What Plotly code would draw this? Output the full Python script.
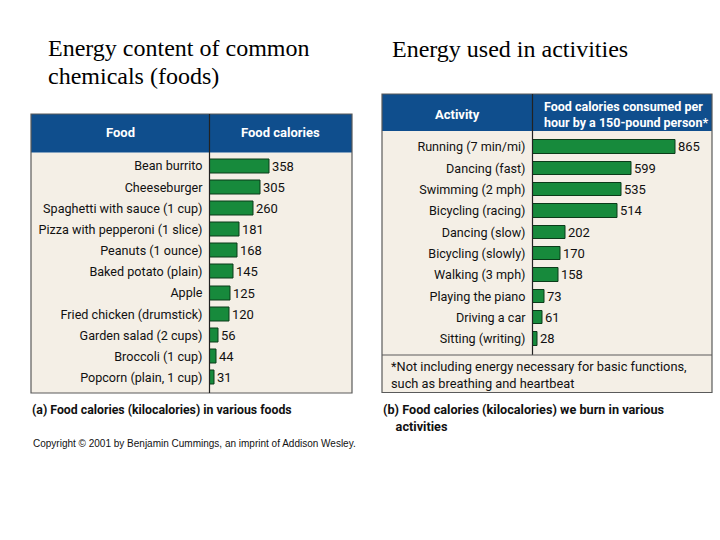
import plotly.graph_objects as go

W, H = 720, 540

foods = ["Bean burrito", "Cheeseburger", "Spaghetti with sauce (1 cup)",
         "Pizza with pepperoni (1 slice)", "Peanuts (1 ounce)", "Baked potato (plain)",
         "Apple", "Fried chicken (drumstick)", "Garden salad (2 cups)",
         "Broccoli (1 cup)", "Popcorn (plain, 1 cup)"]
food_cal = [358, 305, 260, 181, 168, 145, 125, 120, 56, 44, 31]

activities = ["Running (7 min/mi)", "Dancing (fast)", "Swimming (2 mph)",
              "Bicycling (racing)", "Dancing (slow)", "Bicycling (slowly)",
              "Walking (3 mph)", "Playing the piano", "Driving a car", "Sitting (writing)"]
act_cal = [865, 599, 535, 514, 202, 170, 158, 73, 61, 28]

BLUE = "#0f4e8d"
BEIGE = "#f4efe6"
GREEN = "#178a3c"
GREEN_EDGE = "#0b3b19"
BORDER = "#5a5a5a"
FONT = "Roboto, Liberation Sans Narrow, sans-serif"
SERIF = "Liberation Serif, Times New Roman, serif"


def px(x):
    return x / W


def py(y):
    return 1 - y / H


fig = go.Figure()

fig.add_trace(go.Bar(
    x=food_cal, y=foods, orientation="h", xaxis="x", yaxis="y",
    marker=dict(color=GREEN, line=dict(color=GREEN_EDGE, width=1)),
    width=0.66, text=[str(v) for v in food_cal], textposition="outside",
    constraintext="none", cliponaxis=False,
    textfont=dict(family=FONT, size=13, color="#111"), hoverinfo="skip"))

fig.add_trace(go.Bar(
    x=act_cal, y=activities, orientation="h", xaxis="x2", yaxis="y2",
    marker=dict(color=GREEN, line=dict(color=GREEN_EDGE, width=1)),
    width=0.64, text=[str(v) for v in act_cal], textposition="outside",
    constraintext="none", cliponaxis=False,
    textfont=dict(family=FONT, size=13, color="#111"), hoverinfo="skip"))

# panel geometry (pixels)
L = dict(x0=31, x1=352, y0=114, y1=393, div=209.5, hb=152.5)
R = dict(x0=382, x1=712, y0=94, y1=392.5, div=532.5, hb=131, sep=355)

fig.update_layout(
    width=W, height=H, margin=dict(l=0, r=0, t=0, b=0),
    paper_bgcolor="white", plot_bgcolor="rgba(0,0,0,0)",
    showlegend=False, bargap=0,
    xaxis=dict(domain=[px(L["div"]), px(L["x1"])], range=[0, (L["x1"] - L["div"]) / 0.1676],
               visible=False, fixedrange=True),
    yaxis=dict(domain=[py(L["y1"]), py(L["hb"])], anchor="x", type="category",
               range=[10.72, -0.64], showgrid=False, zeroline=False, showline=False,
               ticks="", ticklabelstandoff=6,
               tickfont=dict(family=FONT, size=12.6, color="#111")),
    xaxis2=dict(domain=[px(R["div"]), px(R["x1"])], range=[0, (R["x1"] - R["div"]) / 0.1655],
                visible=False, fixedrange=True),
    yaxis2=dict(domain=[py(R["sep"]), py(R["hb"])], anchor="x2", type="category",
                range=[9.75, -0.75], showgrid=False, zeroline=False, showline=False,
                ticks="", ticklabelstandoff=6,
                tickfont=dict(family=FONT, size=12.6, color="#111")),
)

shapes = []
for P in (L, R):
    shapes.append(dict(type="rect", xref="paper", yref="paper", layer="below",
                       x0=px(P["x0"]), x1=px(P["x1"]), y0=py(P["y1"]), y1=py(P["hb"]),
                       fillcolor=BEIGE, line=dict(width=0)))
    shapes.append(dict(type="rect", xref="paper", yref="paper", layer="below",
                       x0=px(P["x0"]), x1=px(P["x1"]), y0=py(P["hb"]), y1=py(P["y0"]),
                       fillcolor=BLUE, line=dict(width=0)))
    shapes.append(dict(type="rect", xref="paper", yref="paper", layer="above",
                       x0=px(P["x0"]), x1=px(P["x1"]), y0=py(P["y1"]), y1=py(P["y0"]),
                       fillcolor="rgba(0,0,0,0)", line=dict(color=BORDER, width=1.2)))

shapes.append(dict(type="line", xref="paper", yref="paper", layer="above",
                   x0=px(L["div"]), x1=px(L["div"]), y0=py(L["y1"]), y1=py(L["y0"]),
                   line=dict(color="#222", width=1.2)))
shapes.append(dict(type="line", xref="paper", yref="paper", layer="above",
                   x0=px(R["div"]), x1=px(R["div"]), y0=py(R["sep"]), y1=py(R["y0"]),
                   line=dict(color="#222", width=1.2)))
shapes.append(dict(type="line", xref="paper", yref="paper", layer="above",
                   x0=px(R["x0"]), x1=px(R["x1"]), y0=py(R["sep"]), y1=py(R["sep"]),
                   line=dict(color=BORDER, width=1.2)))
fig.update_layout(shapes=shapes)

ann = []


def text(x, y, s, size=13, color="#111", family=FONT, xanchor="left", align="left"):
    ann.append(dict(xref="paper", yref="paper", x=px(x), y=py(y), text=s, showarrow=False,
                    xanchor=xanchor, yanchor="middle", align=align,
                    font=dict(family=family, size=size, color=color)))


# slide titles
text(46, 48, "Energy content of common", size=24, family=SERIF, color="#000")
text(46, 76, "chemicals (foods)", size=24, family=SERIF, color="#000")
text(390, 49, "Energy used in activities", size=24, family=SERIF, color="#000")

# headers
text((L["x0"] + L["div"]) / 2, 133, "<b>Food</b>", color="white", xanchor="center")
text((L["div"] + L["x1"]) / 2, 133, "<b>Food calories</b>", color="white", xanchor="center")
text((R["x0"] + R["div"]) / 2, 114.5, "<b>Activity</b>", color="white", xanchor="center")
text(542, 114.5, "<b>Food calories consumed per<br>hour by a 150-pound person*</b>",
     size=12.5, color="white")

# footnote
text(389, 375, "*Not including energy necessary for basic functions,<br>such as breathing and heartbeat",
     size=12.8)

# captions
text(30, 410, "<b>(a) Food calories (kilocalories) in various foods</b>", size=12.3)
text(31, 443, "Copyright © 2001 by Benjamin Cummings, an imprint of Addison Wesley.",
     size=10, family="Liberation Sans, Arial, sans-serif")
text(381, 418, "<b>(b) Food calories (kilocalories) we burn in various<br>    activities</b>", size=12.7)

fig.update_layout(annotations=ann)

fig.write_html("out.html", config={"displayModeBar": False},
               post_script="document.body.style.margin='0';")
